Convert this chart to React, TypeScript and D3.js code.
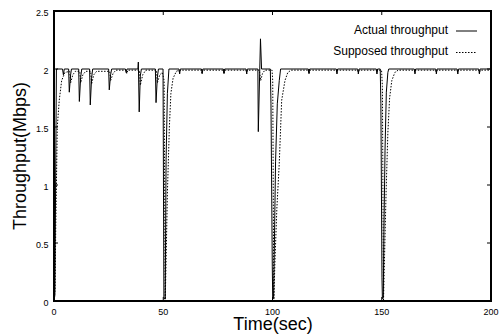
import React, { useEffect, useRef } from 'react';
import * as d3 from 'd3';

// values
const actualTime = [
  0, 0.4, 1.1, 3.9, 4.3, 4.7, 6.7, 7.0, 7.6, 8.0,
  11.3, 11.6, 12.2, 12.7, 16.3, 16.6, 17.2, 17.7, 25.0, 25.3,
  25.9, 26.4, 32.7, 33.0, 33.4, 38.4, 38.6, 39.0, 39.5, 40.0,
  46.4, 46.7, 47.3, 47.8, 49.9, 50.3, 50.9, 51.3, 51.9, 52.6,
  57.2, 57.5, 57.8, 67.5, 67.8, 68.1, 77.5, 77.8, 78.1, 87.9,
  88.2, 88.5, 93.3, 93.5, 94.5, 95.0, 99.0, 99.3, 99.9, 100.1,
  100.5, 100.8, 101.4, 102.2, 103.1, 103.7, 116.4, 116.7, 117.0, 129.2,
  129.5, 129.8, 139.0, 139.3, 139.6, 147.5, 147.8, 148.1, 149.3, 149.6,
  150.1, 150.3, 150.7, 151.0, 151.5, 152.1, 152.8, 153.2, 164.9, 165.2,
  165.5, 174.7, 175.0, 175.3, 184.5, 184.8, 185.1, 194.4, 194.7, 195.0,
  200,
];
const actualMbps = [
  0, 0.05, 2.0, 2.0, 1.95, 2.0, 2.0, 1.80, 1.95, 2.0,
  2.0, 1.72, 1.93, 2.0, 2.0, 1.69, 1.92, 2.0, 2.0, 1.82,
  1.95, 2.0, 2.0, 1.97, 2.0, 2.0, 2.06, 1.63, 1.94, 2.0,
  2.0, 1.71, 1.93, 2.0, 2.0, 0.02, 0.02, 1.22, 1.79, 2.0,
  2.0, 1.96, 2.0, 2.0, 1.96, 2.0, 2.0, 1.96, 2.0, 2.0,
  1.96, 2.0, 2.0, 1.46, 2.26, 2.0, 2.0, 1.7, 0.3, 0.02,
  0.03, 0.4, 1.2, 1.7, 1.9, 2.0, 2.0, 1.96, 2.0, 2.0,
  1.96, 2.0, 2.0, 1.96, 2.0, 2.0, 1.96, 2.0, 2.0, 1.7,
  0.2, 0.02, 0.03, 0.6, 1.3, 1.8, 1.97, 2.0, 2.0, 1.96,
  2.0, 2.0, 1.96, 2.0, 2.0, 1.96, 2.0, 2.0, 1.96, 2.0,
  2.0,
];

const supposedTime = [
  0, 0.5, 0.8, 1.1, 1.5, 2.4, 3.5, 5.0, 7.2, 7.6,
  8.6, 9.8, 11.8, 12.2, 13.2, 14.5, 16.8, 17.2, 18.2, 19.5,
  25.5, 25.9, 27.0, 28.3, 33.0, 33.3, 33.8, 39.1, 39.5, 40.6,
  42.0, 46.9, 47.3, 48.4, 49.6, 50.4, 50.9, 51.3, 51.9, 52.8,
  53.5, 54.5, 56.0, 57.2, 57.5, 57.8, 67.5, 67.8, 68.1, 77.5,
  77.8, 78.1, 87.9, 88.2, 88.5, 94.0, 94.6, 95.4, 96.5, 99.8,
  100.1, 100.6, 101.1, 102.0, 103.1, 104.2, 105.7, 107.0, 108.5, 116.4,
  116.7, 117.0, 129.2, 129.5, 129.8, 139.0, 139.3, 139.6, 147.5, 147.8,
  148.1, 149.9, 150.3, 150.8, 151.3, 152.0, 152.8, 153.6, 154.6, 156.0,
  157.5, 164.9, 165.2, 165.5, 174.7, 175.0, 175.3, 184.5, 184.8, 185.1,
  194.4, 194.7, 195.0, 200,
];
const supposedMbps = [
  0, 0.1, 0.64, 1.0, 1.5, 1.73, 1.9, 1.97, 1.98, 1.88,
  1.95, 1.98, 1.98, 1.88, 1.95, 1.98, 1.98, 1.87, 1.95, 1.98,
  1.98, 1.9, 1.96, 1.99, 1.99, 1.96, 1.99, 1.99, 1.86, 1.95,
  1.99, 1.99, 1.88, 1.95, 1.97, 1.9, 0, 0.35, 0.93, 1.5,
  1.79, 1.92, 1.98, 1.99, 1.96, 1.99, 1.99, 1.96, 1.99, 1.99,
  1.96, 1.99, 1.99, 1.96, 1.99, 1.99, 1.9, 1.96, 1.99, 1.99,
  1.9, 0, 0.33, 0.8, 1.19, 1.73, 1.9, 1.97, 1.99, 1.99,
  1.96, 1.99, 1.99, 1.96, 1.99, 1.99, 1.96, 1.99, 1.99, 1.96,
  1.99, 1.99, 1.85, 0, 0.4, 0.95, 1.45, 1.75, 1.9, 1.97,
  1.99, 1.99, 1.96, 1.99, 1.99, 1.96, 1.99, 1.99, 1.96, 1.99,
  1.99, 1.96, 1.99, 1.99,
];

const xTicks = [0, 50, 100, 150, 200];
const yTicks = [0, 0.5, 1, 1.5, 2, 2.5];
const legendLabels = ['Actual throughput', 'Supposed throughput'];

const FONT = '"Liberation Sans", Arial, Helvetica, sans-serif';

function App() {
  const svgRef = useRef<SVGSVGElement>(null);

  useEffect(() => {
    const width = 503;
    const height = 334;
    const plot = { left: 54, right: 491, top: 11, bottom: 301 };

    const root = d3.select(svgRef.current);
    root.selectAll('*').remove();
    root.attr('width', width).attr('height', height);

    const x = d3.scaleLinear().domain([0, 200]).range([plot.left, plot.right]);
    const y = d3.scaleLinear().domain([0, 2.5]).range([plot.bottom, plot.top]);

    const actual = actualTime.map((t, i) => ({ t, v: actualMbps[i] }));
    const supposed = supposedTime.map((t, i) => ({ t, v: supposedMbps[i] }));

    const line = d3.line<{ t: number; v: number }>()
      .x(d => x(d.t))
      .y(d => y(d.v));

    // supposed throughput (dotted) under the actual one
    root.append('path')
      .datum(supposed)
      .attr('d', line)
      .attr('fill', 'none')
      .attr('stroke', '#000')
      .attr('stroke-width', 1)
      .attr('stroke-dasharray', '1.5,1.5');

    root.append('path')
      .datum(actual)
      .attr('d', line)
      .attr('fill', 'none')
      .attr('stroke', '#000')
      .attr('stroke-width', 1);

    // ticks, inward and mirrored like gnuplot
    const tickLen = 4;
    const ticks = root.append('g').attr('stroke', '#000').attr('stroke-width', 1);
    xTicks.forEach(t => {
      ticks.append('line').attr('x1', x(t)).attr('x2', x(t))
        .attr('y1', plot.bottom).attr('y2', plot.bottom - tickLen);
      ticks.append('line').attr('x1', x(t)).attr('x2', x(t))
        .attr('y1', plot.top).attr('y2', plot.top + tickLen);
    });
    yTicks.forEach(v => {
      ticks.append('line').attr('x1', plot.left).attr('x2', plot.left + tickLen)
        .attr('y1', y(v)).attr('y2', y(v));
      ticks.append('line').attr('x1', plot.right).attr('x2', plot.right - tickLen)
        .attr('y1', y(v)).attr('y2', y(v));
    });

    // frame
    root.append('rect')
      .attr('x', plot.left)
      .attr('y', plot.top)
      .attr('width', plot.right - plot.left)
      .attr('height', plot.bottom - plot.top)
      .attr('fill', 'none')
      .attr('stroke', '#000')
      .attr('stroke-width', 2);

    // tick labels
    root.append('g')
      .selectAll('text')
      .data(xTicks)
      .join('text')
      .attr('x', d => x(d))
      .attr('y', plot.bottom + 14)
      .attr('text-anchor', 'middle')
      .attr('font-family', FONT)
      .attr('font-size', 9)
      .text(d => String(d));

    root.append('g')
      .selectAll('text')
      .data(yTicks)
      .join('text')
      .attr('x', 48.5)
      .attr('y', d => y(d) + 4.5)
      .attr('text-anchor', 'end')
      .attr('font-family', FONT)
      .attr('font-size', 9)
      .text(d => String(d));

    // axis titles
    root.append('text')
      .attr('x', 273)
      .attr('y', 330)
      .attr('text-anchor', 'middle')
      .attr('font-family', FONT)
      .attr('font-size', 18)
      .text('Time(sec)');

    root.append('text')
      .attr('transform', 'translate(26,156) rotate(-90)')
      .attr('text-anchor', 'middle')
      .attr('font-family', FONT)
      .attr('font-size', 18)
      .text('Throughput(Mbps)');

    // legend
    const legend = root.append('g');
    legendLabels.forEach((label, i) => {
      const base = 33.5 + i * 21.5;
      legend.append('text')
        .attr('x', 448)
        .attr('y', base)
        .attr('text-anchor', 'end')
        .attr('font-family', FONT)
        .attr('font-size', 12)
        .text(label);
      legend.append('line')
        .attr('x1', 456)
        .attr('x2', 477)
        .attr('y1', base - 2.5)
        .attr('y2', base - 2.5)
        .attr('stroke', '#000')
        .attr('stroke-width', 1)
        .attr('stroke-dasharray', i === 0 ? null : '1.5,1.5');
    });
  }, []);

  return (
    <svg
      ref={svgRef}
      style={{ position: 'absolute', left: 0, top: 0, background: '#fff' }}
    ></svg>
  );
}

export default App;
